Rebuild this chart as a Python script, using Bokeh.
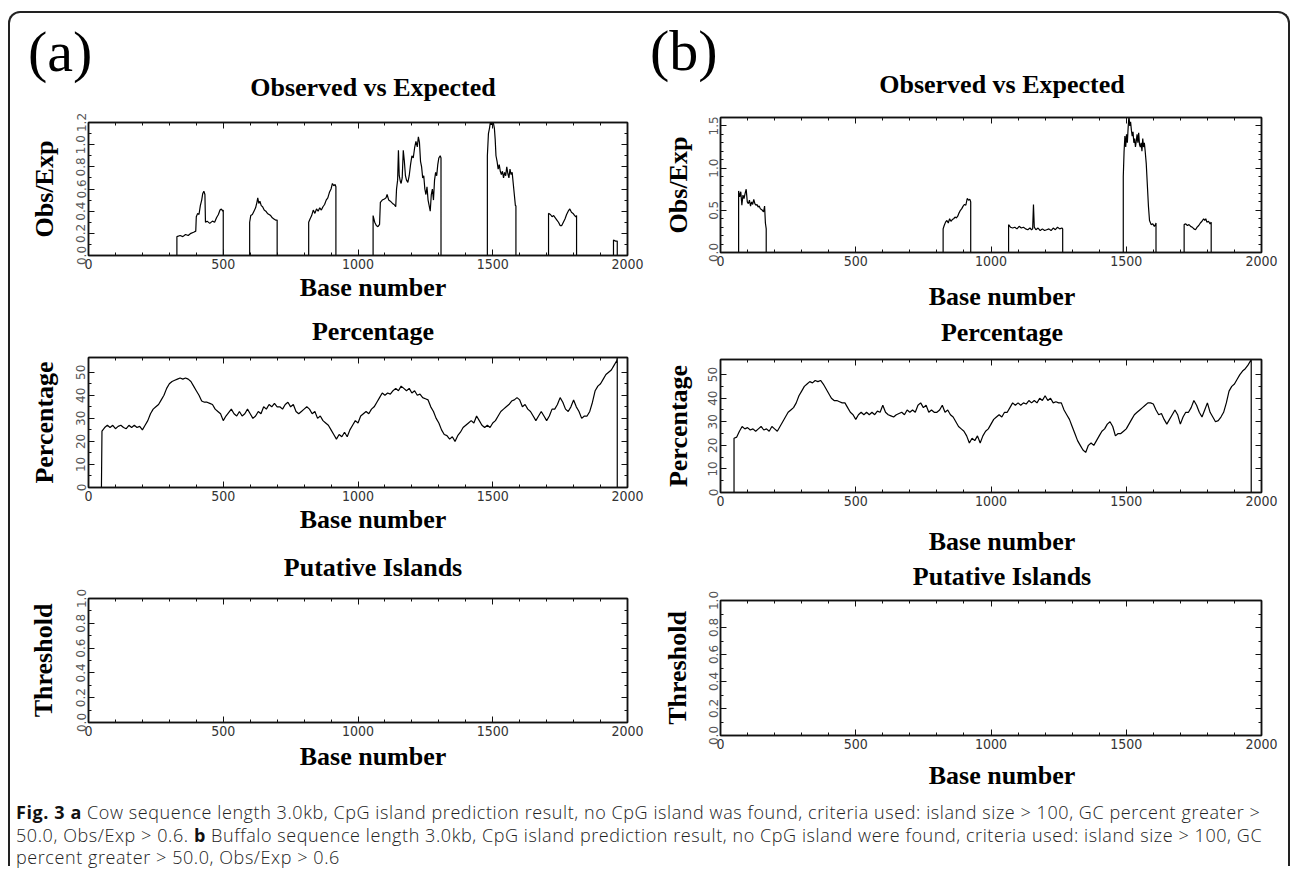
from bokeh.plotting import figure
from bokeh.models import (Range1d, LinearAxis, FixedTicker, PrintfTickFormatter, Title, Div,
                          CustomLabelingPolicy)
from bokeh.layouts import column, row
from bokeh.embed import file_html
from bokeh.resources import INLINE

# ---------------------------------------------------------------- data
# Observed vs Expected, cow (a): (base, obs/exp) points
cow_oe = [(0, 0), (328, 0), (328, 0.17), (340, 0.18), (350, 0.17), (360, 0.19), (370, 0.18), (380, 0.2),
          (390, 0.21), (398, 0.22), (400, 0.35), (405, 0.38), (410, 0.37), (415, 0.45), (420, 0.5),
          (424, 0.56), (428, 0.58), (432, 0.55), (434, 0.3), (440, 0.31), (450, 0.29), (460, 0.31),
          (468, 0.3), (475, 0.34), (482, 0.37), (488, 0.41), (493, 0.42), (498, 0.4), (500, 0.41), (500, 0),
          (598, 0), (598, 0.3), (602, 0.36), (608, 0.37), (614, 0.4), (620, 0.43), (625, 0.48), (628, 0.52),
          (632, 0.47), (636, 0.49), (641, 0.45), (646, 0.44), (652, 0.41), (658, 0.4), (664, 0.38),
          (670, 0.37), (676, 0.36), (682, 0.34), (688, 0.33), (694, 0.32), (700, 0.32), (700, 0),
          (817, 0), (817, 0.3), (822, 0.33), (828, 0.36), (834, 0.41), (840, 0.38), (846, 0.42), (852, 0.4),
          (858, 0.43), (864, 0.41), (870, 0.44), (876, 0.46), (882, 0.5), (888, 0.52), (894, 0.57),
          (900, 0.6), (905, 0.65), (910, 0.63), (915, 0.64), (918, 0.62), (918, 0),
          (1056, 0), (1056, 0.36), (1062, 0.3), (1068, 0.27), (1074, 0.26), (1080, 0.28), (1083, 0.48),
          (1090, 0.5), (1098, 0.51), (1104, 0.52), (1108, 0.55), (1114, 0.5), (1120, 0.49), (1128, 0.47),
          (1134, 0.46), (1140, 0.44), (1143, 0.6), (1147, 0.68), (1150, 0.95), (1153, 0.72), (1157, 0.67),
          (1160, 0.65), (1164, 0.7), (1168, 0.95), (1172, 0.85), (1176, 0.72), (1180, 0.68), (1185, 0.66),
          (1190, 0.72), (1195, 0.82), (1200, 0.9), (1205, 0.88), (1210, 0.97), (1215, 1.03), (1220, 0.98),
          (1224, 1.07), (1228, 1.02), (1232, 0.85), (1236, 0.8), (1240, 0.7), (1244, 0.72), (1248, 0.6),
          (1252, 0.55), (1256, 0.62), (1260, 0.5), (1264, 0.45), (1268, 0.4), (1272, 0.55), (1276, 0.6),
          (1280, 0.5), (1284, 0.68), (1288, 0.75), (1292, 0.72), (1296, 0.82), (1300, 0.88), (1305, 0.9),
          (1308, 0.88), (1308, 0),
          (1480, 0), (1480, 0.9), (1484, 1.1), (1488, 1.15), (1491, 1.2), (1495, 1.18), (1498, 1.2),
          (1502, 1.2), (1506, 1.15), (1509, 1.05), (1512, 0.9), (1516, 0.85), (1520, 0.78), (1524, 0.82),
          (1528, 0.76), (1532, 0.73), (1536, 0.76), (1540, 0.7), (1544, 0.75), (1548, 0.72), (1552, 0.8),
          (1556, 0.74), (1560, 0.7), (1564, 0.78), (1568, 0.73), (1572, 0.75), (1576, 0.65), (1580, 0.55),
          (1584, 0.45), (1586, 0.45), (1586, 0),
          (1707, 0), (1707, 0.38), (1714, 0.37), (1720, 0.35), (1726, 0.36), (1732, 0.34), (1738, 0.32),
          (1744, 0.3), (1750, 0.27), (1756, 0.27), (1762, 0.3), (1768, 0.33), (1774, 0.37), (1780, 0.4),
          (1786, 0.42), (1792, 0.39), (1798, 0.38), (1804, 0.36), (1808, 0.35), (1811, 0.36), (1811, 0),
          (1948, 0), (1948, 0.14), (1956, 0.13), (1962, 0.13), (1962, 0), (2000, 0)]

# Observed vs Expected, buffalo (b)
buf_oe = [(0, 0), (67, 0), (67, 0.73), (71, 0.66), (75, 0.72), (79, 0.56), (83, 0.68), (87, 0.64), (91, 0.7),
          (95, 0.75), (99, 0.6), (103, 0.58), (107, 0.62), (111, 0.55), (115, 0.6), (119, 0.57), (123, 0.63),
          (127, 0.58), (131, 0.56), (135, 0.57), (139, 0.54), (143, 0.55), (147, 0.52), (151, 0.51),
          (155, 0.5), (159, 0.48), (163, 0.55), (166, 0.35), (169, 0.28), (169, 0),
          (823, 0), (823, 0.28), (827, 0.32), (832, 0.36), (837, 0.38), (842, 0.35), (847, 0.4), (852, 0.37),
          (857, 0.39), (862, 0.4), (867, 0.42), (872, 0.41), (877, 0.43), (882, 0.47), (887, 0.5),
          (892, 0.52), (897, 0.55), (902, 0.57), (907, 0.56), (912, 0.64), (917, 0.62), (922, 0.63),
          (925, 0.6), (925, 0),
          (1065, 0), (1065, 0.33), (1072, 0.3), (1080, 0.29), (1088, 0.3), (1096, 0.28), (1104, 0.31),
          (1112, 0.29), (1120, 0.3), (1128, 0.28), (1136, 0.27), (1144, 0.29), (1150, 0.27), (1154, 0.28),
          (1157, 0.57), (1160, 0.3), (1166, 0.27), (1174, 0.29), (1182, 0.26), (1190, 0.28), (1198, 0.26),
          (1206, 0.27), (1214, 0.28), (1222, 0.26), (1230, 0.29), (1238, 0.27), (1246, 0.3), (1254, 0.28),
          (1262, 0.29), (1265, 0.28), (1265, 0),
          (1489, 0), (1489, 0.9), (1492, 1.2), (1495, 1.38), (1498, 1.25), (1501, 1.4), (1504, 1.3),
          (1507, 1.48), (1510, 1.62), (1513, 1.5), (1516, 1.55), (1519, 1.45), (1522, 1.38), (1525, 1.43),
          (1528, 1.3), (1531, 1.35), (1534, 1.25), (1537, 1.32), (1540, 1.4), (1543, 1.3), (1546, 1.42),
          (1549, 1.28), (1552, 1.25), (1555, 1.3), (1558, 1.2), (1561, 1.35), (1564, 1.25), (1567, 1.3),
          (1570, 1.2), (1574, 1.05), (1578, 0.8), (1582, 0.55), (1586, 0.38), (1592, 0.33), (1598, 0.34),
          (1604, 0.31), (1608, 0.33), (1610, 0.35), (1610, 0),
          (1714, 0), (1714, 0.33), (1720, 0.34), (1726, 0.32), (1732, 0.33), (1738, 0.31), (1744, 0.3),
          (1750, 0.28), (1756, 0.27), (1762, 0.3), (1768, 0.32), (1774, 0.35), (1780, 0.37), (1786, 0.4),
          (1790, 0.38), (1794, 0.4), (1798, 0.36), (1804, 0.37), (1810, 0.34), (1814, 0.36), (1814, 0),
          (2000, 0)]

# GC percentage, sampled every 10 bases from base 50 to base 1960
pct_base = list(range(50, 1961, 10))
cow_pct = [24.5, 26, 27, 26, 27, 25.5, 26.5, 27, 26, 25.5,
           27, 26, 27, 26, 26.5, 25, 27, 29, 32, 34,
           35, 36, 38, 40, 43, 45, 46, 46.5, 47, 47.5,
           47, 47.5, 47, 46, 44, 42, 40, 37.5, 37, 37,
           36.5, 36, 34, 33, 32, 29, 31, 32.5, 34, 32,
           31, 33, 31, 32, 34, 32, 30, 31, 33, 32,
           35, 34, 36, 35, 36.5, 35, 35, 34, 36, 37,
           35, 36, 33, 32, 33, 34, 35, 34, 32, 33,
           30, 31, 29, 28, 27, 25, 23, 21, 23, 22,
           24, 22, 25, 27, 29, 28, 31, 32, 33, 32,
           34, 35, 37, 39, 41, 40, 41, 40.5, 42, 43,
           42, 44, 43, 42, 43, 41, 42, 40, 40.5, 39,
           38.5, 38, 35, 33, 30, 28, 25, 23, 22.5, 21,
           22, 20, 22.5, 24, 26, 27, 28, 29, 28, 31,
           29, 27, 26, 27, 26, 28, 29, 31, 33, 34,
           35, 36, 37.5, 38, 39, 38, 35, 36, 34, 33,
           31, 29, 31, 33, 31, 29, 31, 34, 34, 36,
           39, 37, 34, 33, 35, 38, 35, 33, 30, 31,
           31, 33, 37, 42, 44, 45, 47, 49, 50, 51,
           53, 55]
buf_pct = [23, 23.5, 26, 28, 27, 27.5, 26.5, 27, 26, 27,
           28, 26.5, 27, 26, 28, 27, 26, 28, 30, 32,
           34, 35, 36, 38, 41, 43, 45, 46, 47, 46.5,
           47.5, 47, 47.5, 46, 44, 42, 40, 39, 39, 38.5,
           38, 38, 36, 34, 33, 31, 33, 34, 33, 34,
           33, 34, 33, 34.5, 34, 37, 34, 33, 32.5, 32,
           33, 33.5, 34, 33, 35, 34, 35, 34, 37, 38,
           36, 37, 34, 35, 34, 34, 35, 37, 34, 35,
           33, 32, 30, 28, 27, 26, 24, 21, 23, 22,
           24, 21, 24, 26, 27, 29, 31, 32, 33, 32,
           34, 34, 36, 38, 37, 38, 37, 38, 37.5, 39,
           38, 39, 38, 40, 39, 41, 39, 40, 38, 38.5,
           38, 38, 35, 33, 31, 28, 25, 22, 20, 18,
           17, 20, 21, 20, 22, 24, 26, 27, 29, 30,
           28, 24, 25, 25, 26, 27, 29, 31, 33, 34,
           35, 36, 37, 38, 38, 37.5, 35, 33, 33.5, 31,
           29, 31, 33, 35, 33, 29, 32, 34, 34, 36,
           39, 37, 34, 32, 35, 38, 34, 32, 30, 30.5,
           32, 34, 38, 43, 45, 46, 48, 50, 51.5, 52.5,
           54, 56]
cow_pct_start, cow_pct_end = 48, 1962     # vertical edges of the percentage trace
buf_pct_start, buf_pct_end = 50, 1962
pct_top = 56.4

# ticks
x_major = [0, 500, 1000, 1500, 2000]
x_minor = [v for v in range(0, 2001, 100)]
oe_a_major = [0.0, 0.2, 0.4, 0.6, 0.8, 1.0, 1.2]
oe_b_major = [0.0, 0.5, 1.0, 1.5]
pct_major = [0, 10, 20, 30, 40, 50]
thr_major = [0.0, 0.2, 0.4, 0.6, 0.8, 1.0]

titles = ["Observed vs Expected", "Percentage", "Putative Islands"]
y_labels = ["Obs/Exp", "Percentage", "Threshold"]
x_label = "Base number"
panel_tags = ["(a)", "(b)"]

B = '<b style="font-weight:700; color:#111;">'
caption_html = (B + "Fig. 3 a</b> Cow sequence length 3.0kb, CpG island prediction result, no CpG island was found, "
                "criteria used: island size &gt; 100, GC percent greater &gt;<br>"
                "50.0, Obs/Exp &gt; 0.6. " + B + "b</b> Buffalo sequence length 3.0kb, CpG island prediction result, "
                "no CpG island were found, criteria used: island size &gt; 100, GC<br>"
                "percent greater &gt; 50.0, Obs/Exp &gt; 0.6")

# ---------------------------------------------------------------- style / layout helpers
SERIF = "Liberation Serif"
XTICK_FONT = "DejaVu Sans Condensed"
YTICK_FONT = "DejaVu Sans"
LEFT_X, LEFT_W = 10, 636
RIGHT_X, RIGHT_W = 646, 642

HIDE_LABELS = CustomLabelingPolicy(code="""
try { const n = indices.size; for (let i = 0; i < n; i++) { indices.unset(i) } } catch (e) {}
return indices
""")


def minor_between(major, step):
    lo, hi = major[0], major[-1]
    n = int(round((hi - lo) / step))
    return [round(lo + i * step, 4) for i in range(n + 1)]


def style_axis(ax):
    ax.axis_line_color = "#111"
    ax.axis_line_width = 1.5
    ax.major_tick_line_color = "#111"
    ax.minor_tick_line_color = "#111"
    ax.major_tick_in = 6
    ax.major_tick_out = 0
    ax.minor_tick_in = 3
    ax.minor_tick_out = 0


def make_panel(col_x, col_w, fig_top, fig_bottom, frame, y_max, y_major, y_step, y_fmt,
               ylabel, ylab_standoff):
    fl, ft, fr, fb = frame
    p = figure(width=col_w, height=fig_bottom - fig_top,
               x_range=Range1d(0, 2000), y_range=Range1d(0, y_max),
               output_backend="svg", toolbar_location=None,
               x_axis_location=None, y_axis_location=None,
               min_border_left=fl - col_x, min_border_right=col_x + col_w - fr,
               min_border_top=ft - fig_top, min_border_bottom=fig_bottom - fb)
    p.grid.visible = False
    p.outline_line_color = "#111"
    p.outline_line_width = 1.5
    p.background_fill_color = "white"
    p.border_fill_color = "white"
    for loc in ("below", "above"):
        ax = LinearAxis(ticker=FixedTicker(ticks=x_major, minor_ticks=x_minor))
        style_axis(ax)
        if loc == "below":
            ax.major_label_text_font = XTICK_FONT
            ax.major_label_text_font_size = "14px"
            ax.major_label_text_color = "#333"
            ax.major_label_standoff = 3
        else:
            ax.major_label_policy = HIDE_LABELS
            ax.major_label_text_font_size = "0px"
            ax.major_label_standoff = 0
        p.add_layout(ax, loc)
    for loc in ("left", "right"):
        ax = LinearAxis(ticker=FixedTicker(ticks=y_major, minor_ticks=minor_between(y_major, y_step)),
                        formatter=PrintfTickFormatter(format=y_fmt))
        style_axis(ax)
        if loc == "left":
            ax.major_label_text_font = YTICK_FONT
            ax.major_label_text_font_size = "12px"
            ax.major_label_text_color = "#555"
            ax.major_label_orientation = "vertical"
            ax.major_label_standoff = 3
        else:
            ax.major_label_policy = HIDE_LABELS
            ax.major_label_text_font_size = "0px"
            ax.major_label_standoff = 0
        p.add_layout(ax, loc)
    p.add_layout(Title(text=ylabel, align="center", text_font=SERIF, text_font_size="26px",
                       text_font_style="bold", text_color="black", standoff=ylab_standoff), "left")
    return p


def span(text, cx, cy, size=26, bold=True, left=None):
    """HTML text; cx = horizontal centre, cy = cap-height centre (relative to the strip)."""
    top = cy - 0.5075 * size
    weight = "bold" if bold else "normal"
    if left is None:
        pos = f"left:{cx:.1f}px; transform:translateX(-50%);"
    else:
        pos = f"left:{left:.1f}px;"
    return (f'<span style="position:absolute; {pos} top:{top:.1f}px; white-space:nowrap; '
            f"font-family:'{SERIF}'; font-size:{size}px; line-height:1; font-weight:{weight}; "
            f'color:#000;">{text}</span>')


def strip(width, y0, y1, items):
    html = f'<div style="position:relative; width:{width}px; height:{y1 - y0}px;">' + "".join(items) + "</div>"
    return Div(text=html, width=width, height=y1 - y0, margin=(0, 0, 0, 0),
               styles={"overflow": "visible"})


# frames (left, top, right, bottom) in page pixels
A1, A2, A3 = (83, 122, 627, 255), (83, 357, 627, 487), (83, 598, 627, 722)
B1, B2, B3 = (715, 117, 1261, 252), (715, 359, 1261, 492), (715, 600, 1261, 735)

pa1 = make_panel(LEFT_X, LEFT_W, 112, 277, A1, 1.2, oe_a_major, 0.1, "%.1f", y_labels[0], 30)
pa2 = make_panel(LEFT_X, LEFT_W, 345, 507, A2, pct_top, pct_major, 5, "%d", y_labels[1], 30)
pa3 = make_panel(LEFT_X, LEFT_W, 585, 743, A3, 1.0, thr_major, 0.1, "%.1f", y_labels[2], 32)
pb1 = make_panel(RIGHT_X, RIGHT_W, 107, 272, B1, 1.6, oe_b_major, 0.1, "%.1f", y_labels[0], 26)
pb2 = make_panel(RIGHT_X, RIGHT_W, 347, 512, B2, pct_top, pct_major, 5, "%d", y_labels[1], 26)
pb3 = make_panel(RIGHT_X, RIGHT_W, 590, 755, B3, 1.0, thr_major, 0.1, "%.1f", y_labels[2], 28)

# traces
pa1.line([q[0] for q in cow_oe], [q[1] for q in cow_oe], line_color="black", line_width=1.2)
pb1.line([q[0] for q in buf_oe], [q[1] for q in buf_oe], line_color="black", line_width=1.2)
pa2.line([cow_pct_start] + pct_base + [cow_pct_end, cow_pct_end],
         [0] + cow_pct + [pct_top, 0], line_color="black", line_width=1.2)
pb2.line([buf_pct_start] + pct_base + [buf_pct_end, buf_pct_end],
         [0] + buf_pct + [pct_top, 0], line_color="black", line_width=1.2)

# text strips (positions relative to each strip)
AX, BX = 373 - LEFT_X, 1002 - RIGHT_X
sa0 = strip(LEFT_W, 13, 112, [span(panel_tags[0], 0, 52 - 13, 58, False, left=28 - LEFT_X),
                              span(titles[0], AX, 88 - 13)])
sa1 = strip(LEFT_W, 277, 345, [span(x_label, AX, 288 - 277), span(titles[1], AX, 332 - 277)])
sa2 = strip(LEFT_W, 507, 585, [span(x_label, AX, 520 - 507), span(titles[2], AX, 568 - 507)])
sa3 = strip(LEFT_W, 743, 790, [span(x_label, AX, 757 - 743)])
sb0 = strip(RIGHT_W, 13, 107, [span(panel_tags[1], 0, 51 - 13, 58, False, left=650 - RIGHT_X),
                               span(titles[0], BX, 85 - 13)])
sb1 = strip(RIGHT_W, 272, 347, [span(x_label, BX, 297 - 272), span(titles[1], BX, 333 - 272)])
sb2 = strip(RIGHT_W, 512, 590, [span(x_label, BX, 542 - 512), span(titles[2], BX, 577 - 512)])
sb3 = strip(RIGHT_W, 755, 790, [span(x_label, BX, 776 - 755)])

caption = Div(text=caption_html, width=LEFT_W + RIGHT_W, height=76, margin=(0, 0, 0, 0),
              styles={"font-family": "'Open Sans', sans-serif", "font-size": "18px",
                      "font-weight": "300", "letter-spacing": "0.58px",
                      "line-height": "22.5px", "color": "#222", "padding-left": "6px",
                      "padding-top": "11px", "white-space": "nowrap"})

left = column(sa0, pa1, sa1, pa2, sa2, pa3, sa3, spacing=0)
right = column(sb0, pb1, sb1, pb2, sb2, pb3, sb3, spacing=0)
top = row(left, right, spacing=0)
root = column(top, caption, spacing=0,
              styles={"border-top": "2px solid #222", "border-left": "2px solid #222",
                      "border-right": "2px solid #222", "border-top-left-radius": "12px",
                      "border-top-right-radius": "12px", "margin-top": "11px",
                      "margin-left": "8px", "background-color": "white"})

open("out.html", "w").write(file_html(root, INLINE))
